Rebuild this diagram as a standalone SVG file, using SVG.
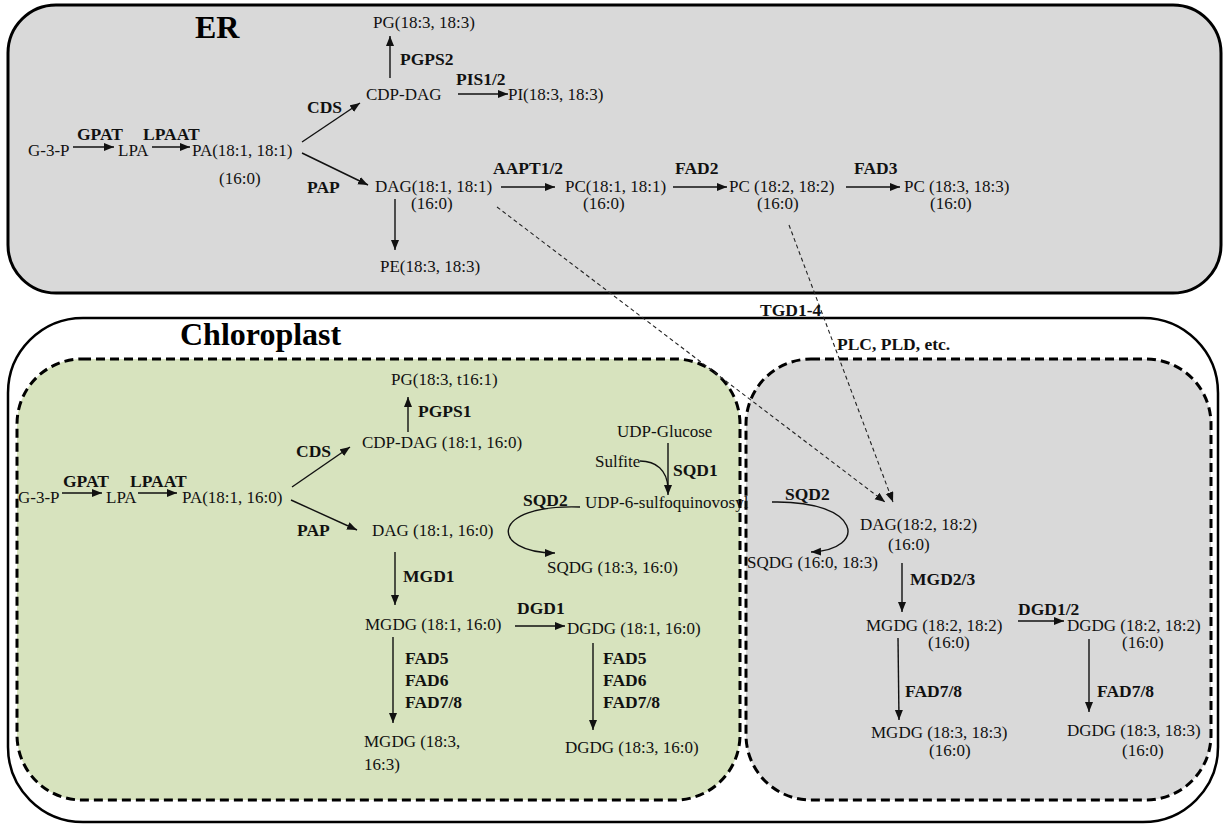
<svg xmlns="http://www.w3.org/2000/svg" width="1223" height="824" viewBox="0 0 1223 824">
<defs>
<style>
.t{font-family:"Liberation Serif","Times New Roman",serif;font-size:17px;fill:#111}
.b{font-family:"Liberation Serif","Times New Roman",serif;font-size:17.5px;font-weight:bold;fill:#111}
.ttl{font-family:"Liberation Serif","Times New Roman",serif;font-size:32px;font-weight:bold;fill:#000}
.a{stroke:#111;stroke-width:1.4;fill:none;marker-end:url(#ah)}
.c{stroke:#111;stroke-width:1.3;fill:none}
.d{stroke:#222;stroke-width:1.1;fill:none;stroke-dasharray:4 3;marker-end:url(#ah)}
.box{stroke:#000;stroke-width:3}
.dash{stroke:#000;stroke-width:3;stroke-dasharray:9 5}
</style>
<marker id="ah" markerUnits="userSpaceOnUse" markerWidth="12" markerHeight="10" refX="10" refY="4" orient="auto">
<path d="M0,0 L10,4 L0,8 Z" fill="#111"/>
</marker>
</defs>

<g id="compartments">
<rect id="er-box" class="box" x="8" y="5" width="1213" height="288" rx="48" ry="48" fill="#d9d9d9"/>
<rect id="chloroplast-box" x="8" y="318" width="1210" height="504" rx="75" ry="75" fill="#ffffff" stroke="#000" stroke-width="2.5"/>
<rect id="plastid-green" class="dash" x="17" y="359" width="723" height="441" rx="65" ry="65" fill="#d7e3be"/>
<rect id="plastid-gray" class="dash" x="746" y="359" width="465" height="441" rx="65" ry="65" fill="#d9d9d9"/>
<text class="ttl" x="195" y="38">ER</text>
<text class="ttl" x="180" y="345">Chloroplast</text>
</g>

<g id="connectors">
<!-- ER -->
<line class="a" x1="73" y1="147" x2="114" y2="147"/>
<line class="a" x1="152" y1="147" x2="190" y2="147"/>
<line class="a" x1="302" y1="142" x2="360" y2="103"/>
<line class="a" x1="302" y1="153" x2="368" y2="185"/>
<line class="a" x1="390" y1="78" x2="390" y2="36"/>
<line class="a" x1="458" y1="94" x2="508" y2="94"/>
<line class="a" x1="395" y1="199" x2="395" y2="250"/>
<line class="a" x1="501" y1="187" x2="555" y2="187"/>
<line class="a" x1="673" y1="187" x2="727" y2="187"/>
<line class="a" x1="846" y1="187" x2="900" y2="187"/>
<!-- ER to plastid -->
<line class="d" x1="497" y1="207" x2="885" y2="502"/>
<line class="d" x1="789" y1="225" x2="893" y2="502"/>
<!-- Chloroplast green -->
<line class="a" x1="62" y1="493" x2="102" y2="493"/>
<line class="a" x1="138" y1="493" x2="177" y2="493"/>
<line class="a" x1="292" y1="487" x2="350" y2="447"/>
<line class="a" x1="291" y1="500" x2="357" y2="530"/>
<line class="a" x1="408" y1="432" x2="408" y2="397"/>
<line class="a" x1="395" y1="552" x2="395" y2="605"/>
<line class="a" x1="515" y1="626" x2="565" y2="626"/>
<line class="a" x1="393" y1="637" x2="393" y2="723"/>
<line class="a" x1="593" y1="643" x2="593" y2="730"/>
<line class="a" x1="668" y1="443" x2="668" y2="495"/>
<path class="c" d="M640 461 C656 461 667 470 668 488"/>
<path class="a" d="M580 507 C488 504 490 553 555 553"/>
<!-- Chloroplast gray -->
<path class="a" d="M772 502 C862 500 868 550 811 552"/>
<line class="a" x1="902" y1="563" x2="902" y2="612"/>
<line class="a" x1="1018" y1="621" x2="1064" y2="621"/>
<line class="a" x1="898" y1="638" x2="899" y2="720"/>
<line class="a" x1="1089" y1="639" x2="1089" y2="712"/>
</g>

<g id="er-nodes">
<g id="er-g3p"><text class="t" x="28" y="156">G-3-P</text></g>
<g id="er-gpat"><text class="b" x="77" y="140">GPAT</text></g>
<g id="er-lpa"><text class="t" x="118" y="156">LPA</text></g>
<g id="er-lpaat"><text class="b" x="143" y="140">LPAAT</text></g>
<g id="er-pa"><text class="t" x="192" y="156">PA(18:1, 18:1)</text><text class="t" x="219" y="184">(16:0)</text></g>
<g id="er-cds"><text class="b" x="307" y="113">CDS</text></g>
<g id="er-cdpdag"><text class="t" x="366" y="100">CDP-DAG</text></g>
<g id="er-pg"><text class="t" x="373" y="28">PG(18:3, 18:3)</text></g>
<g id="er-pgps2"><text class="b" x="400" y="65">PGPS2</text></g>
<g id="er-pis"><text class="b" x="456" y="85">PIS1/2</text></g>
<g id="er-pi"><text class="t" x="508" y="100">PI(18:3, 18:3)</text></g>
<g id="er-pap"><text class="b" x="307" y="193">PAP</text></g>
<g id="er-dag"><text class="t" x="375" y="192">DAG(18:1, 18:1)</text><text class="t" x="411" y="209">(16:0)</text></g>
<g id="er-pe"><text class="t" x="380" y="272">PE(18:3, 18:3)</text></g>
<g id="er-aapt"><text class="b" x="493" y="174">AAPT1/2</text></g>
<g id="er-pc1"><text class="t" x="565" y="192">PC(18:1, 18:1)</text><text class="t" x="583" y="209">(16:0)</text></g>
<g id="er-fad2"><text class="b" x="675" y="174">FAD2</text></g>
<g id="er-pc2"><text class="t" x="729" y="192">PC (18:2, 18:2)</text><text class="t" x="757" y="209">(16:0)</text></g>
<g id="er-fad3"><text class="b" x="854" y="174">FAD3</text></g>
<g id="er-pc3"><text class="t" x="904" y="192">PC (18:3, 18:3)</text><text class="t" x="930" y="209">(16:0)</text></g>
</g>

<g id="transfer-labels">
<g id="tgd"><text class="b" x="760" y="316">TGD1-4</text></g>
<g id="plc"><text class="b" x="837" y="350">PLC, PLD, etc.</text></g>
</g>

<g id="plastid-nodes">
<g id="cp-g3p"><text class="t" x="18" y="503">G-3-P</text></g>
<g id="cp-gpat"><text class="b" x="63" y="487">GPAT</text></g>
<g id="cp-lpa"><text class="t" x="106" y="503">LPA</text></g>
<g id="cp-lpaat"><text class="b" x="130" y="487">LPAAT</text></g>
<g id="cp-pa"><text class="t" x="182" y="503">PA(18:1, 16:0)</text></g>
<g id="cp-cds"><text class="b" x="296" y="457">CDS</text></g>
<g id="cp-cdpdag"><text class="t" x="362" y="448">CDP-DAG (18:1, 16:0)</text></g>
<g id="cp-pg"><text class="t" x="391" y="385">PG(18:3, t16:1)</text></g>
<g id="cp-pgps1"><text class="b" x="418" y="417">PGPS1</text></g>
<g id="cp-pap"><text class="b" x="297" y="536">PAP</text></g>
<g id="cp-dag"><text class="t" x="372" y="536">DAG (18:1, 16:0)</text></g>
<g id="cp-mgd1"><text class="b" x="403" y="582">MGD1</text></g>
<g id="cp-mgdg1"><text class="t" x="365" y="630">MGDG (18:1, 16:0)</text></g>
<g id="cp-dgd1"><text class="b" x="517" y="614">DGD1</text></g>
<g id="cp-dgdg1"><text class="t" x="567" y="634">DGDG (18:1, 16:0)</text></g>
<g id="cp-fad-left"><text class="b" x="405" y="664">FAD5</text><text class="b" x="405" y="686">FAD6</text><text class="b" x="405" y="708">FAD7/8</text></g>
<g id="cp-fad-right"><text class="b" x="603" y="664">FAD5</text><text class="b" x="603" y="686">FAD6</text><text class="b" x="603" y="708">FAD7/8</text></g>
<g id="cp-mgdg2"><text class="t" x="364" y="747">MGDG (18:3,</text><text class="t" x="364" y="770">16:3)</text></g>
<g id="cp-dgdg2"><text class="t" x="565" y="753">DGDG (18:3, 16:0)</text></g>
<g id="cp-udpglc"><text class="t" x="617" y="437">UDP-Glucose</text></g>
<g id="cp-sulfite"><text class="t" x="595" y="467">Sulfite</text></g>
<g id="cp-sqd1"><text class="b" x="673" y="476">SQD1</text></g>
<g id="cp-udpsq"><text class="t" x="585" y="508">UDP-6-sulfoquinovosyl</text></g>
<g id="cp-sqd2a"><text class="b" x="523" y="506">SQD2</text></g>
<g id="cp-sqdg1"><text class="t" x="547" y="573">SQDG (18:3, 16:0)</text></g>
<g id="cp-sqd2b"><text class="b" x="785" y="500">SQD2</text></g>
<g id="cp-dag2"><text class="t" x="860" y="530">DAG(18:2, 18:2)</text><text class="t" x="888" y="550">(16:0)</text></g>
<g id="cp-sqdg2"><text class="t" x="747" y="568">SQDG (16:0, 18:3)</text></g>
<g id="cp-mgd23"><text class="b" x="910" y="585">MGD2/3</text></g>
<g id="cp-mgdg3"><text class="t" x="866" y="631">MGDG (18:2, 18:2)</text><text class="t" x="928" y="648">(16:0)</text></g>
<g id="cp-dgd12"><text class="b" x="1018" y="615">DGD1/2</text></g>
<g id="cp-dgdg3"><text class="t" x="1067" y="631">DGDG (18:2, 18:2)</text><text class="t" x="1122" y="648">(16:0)</text></g>
<g id="cp-fad78a"><text class="b" x="905" y="697">FAD7/8</text></g>
<g id="cp-fad78b"><text class="b" x="1097" y="697">FAD7/8</text></g>
<g id="cp-mgdg4"><text class="t" x="871" y="738">MGDG (18:3, 18:3)</text><text class="t" x="929" y="756">(16:0)</text></g>
<g id="cp-dgdg4"><text class="t" x="1067" y="736">DGDG (18:3, 18:3)</text><text class="t" x="1122" y="756">(16:0)</text></g>
</g>
</svg>
